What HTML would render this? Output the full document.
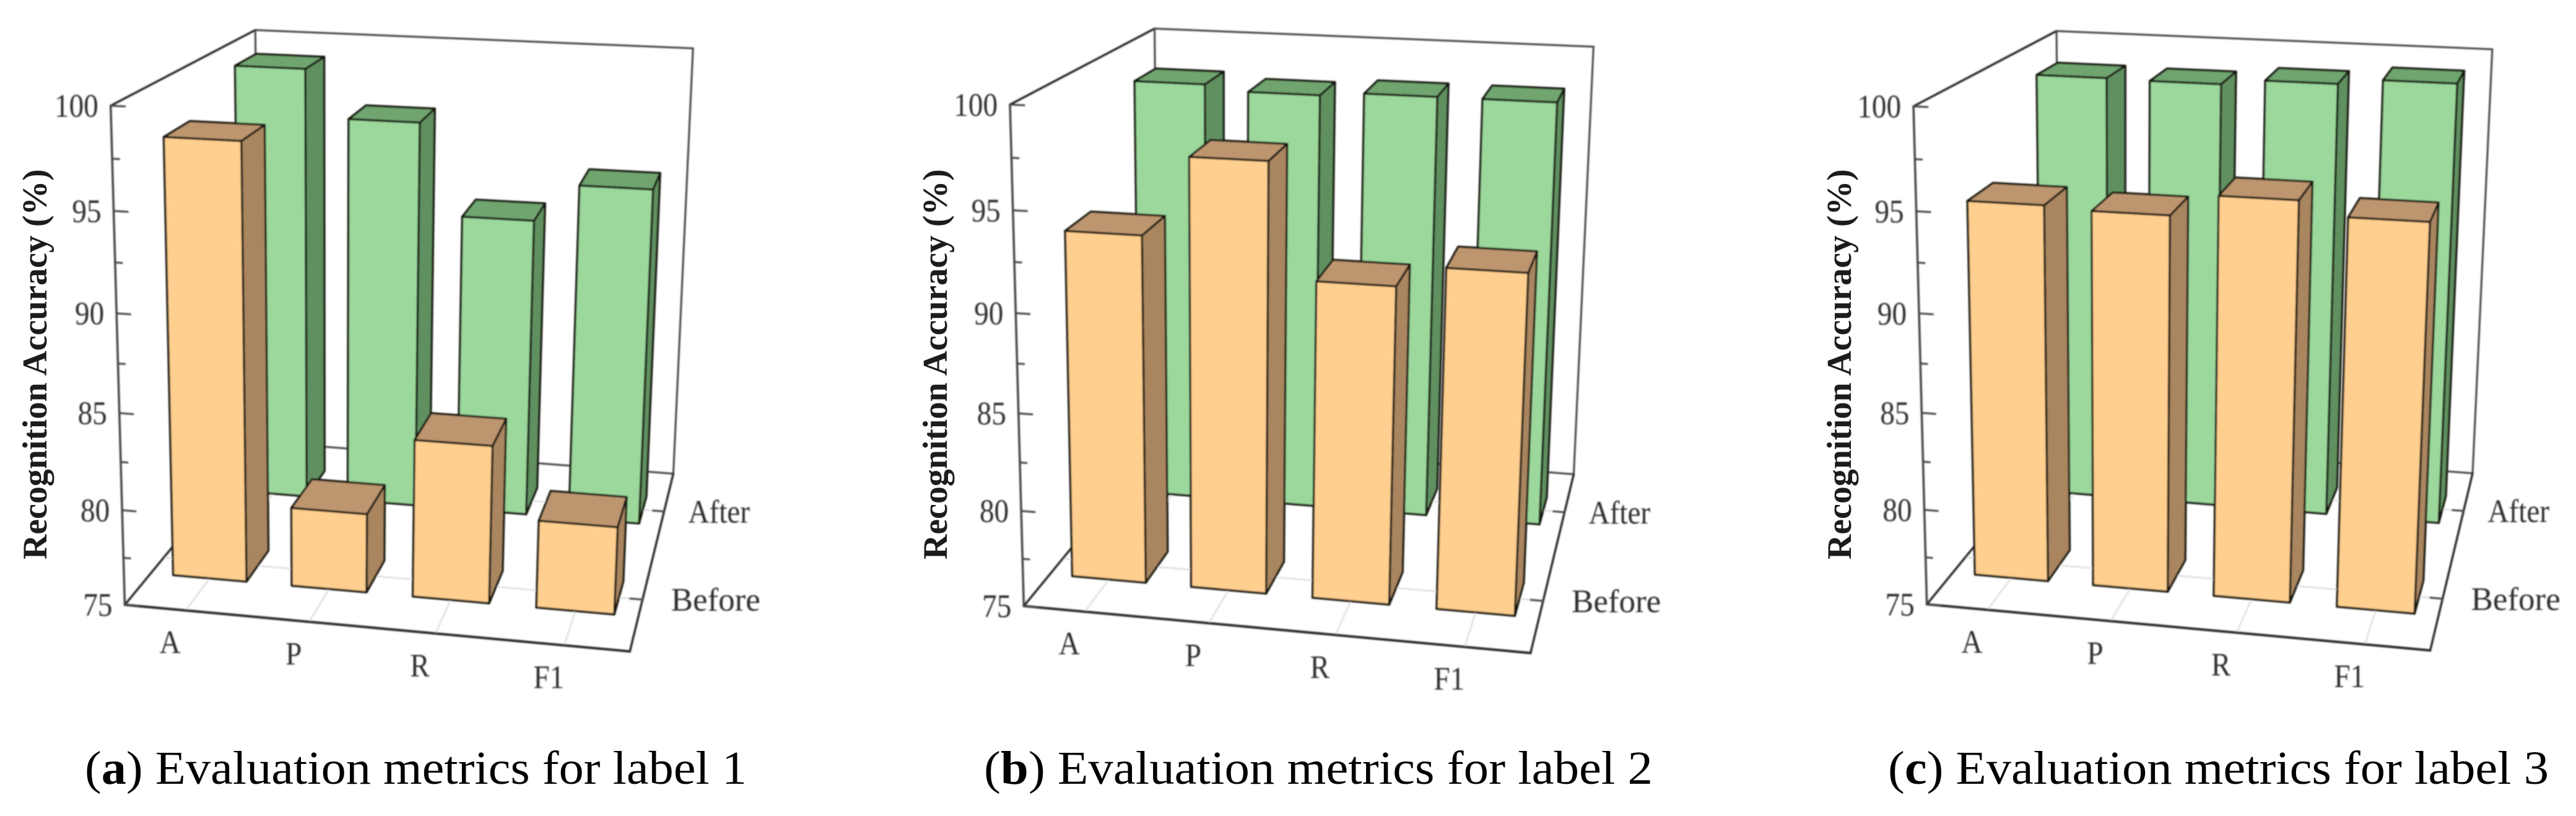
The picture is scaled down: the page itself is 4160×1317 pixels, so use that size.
<!DOCTYPE html>
<html lang="en">
<head>
<meta charset="utf-8">
<title>Evaluation metrics for labels 1 to 3</title>
<style>
html,body{margin:0;padding:0;background:#fff;width:4160px;height:1317px;overflow:hidden}
svg{display:block}
text{font-family:"Liberation Serif",serif}
.tick{font-size:53px;fill:#2e2e2e}
.title{font-size:56px;font-weight:bold;fill:#1c1c1c}
.cap{font-size:76px;fill:#000}
</style>
</head>
<body>
<svg id="figure" xmlns="http://www.w3.org/2000/svg" width="4160" height="1317" viewBox="0 0 4160 1317">
  <defs>
    <filter id="soft" filterUnits="userSpaceOnUse" x="0" y="0" width="4160" height="1317">
      <feGaussianBlur stdDeviation="1"/>
    </filter>
  </defs>
  <rect x="0" y="0" width="4160" height="1317" fill="#fff"/>
  <g id="panel-a" filter="url(#soft)"></g>
  <g id="panel-b" filter="url(#soft)"></g>
  <g id="panel-c" filter="url(#soft)"></g>
  <text class="title" transform="translate(75,588) rotate(-90)" text-anchor="middle" textLength="630" lengthAdjust="spacingAndGlyphs">Recognition Accuracy (%)</text>
  <text class="title" transform="translate(1529,588) rotate(-90)" text-anchor="middle" textLength="630" lengthAdjust="spacingAndGlyphs">Recognition Accuracy (%)</text>
  <text class="title" transform="translate(2989,588) rotate(-90)" text-anchor="middle" textLength="630" lengthAdjust="spacingAndGlyphs">Recognition Accuracy (%)</text>
  <text class="cap" x="137" y="1265" textLength="1069" lengthAdjust="spacingAndGlyphs">(<tspan font-weight="bold">a</tspan>) Evaluation metrics for label 1</text>
  <text class="cap" x="1589" y="1265" textLength="1080" lengthAdjust="spacingAndGlyphs">(<tspan font-weight="bold">b</tspan>) Evaluation metrics for label 2</text>
  <text class="cap" x="3049" y="1265" textLength="1067" lengthAdjust="spacingAndGlyphs">(<tspan font-weight="bold">c</tspan>) Evaluation metrics for label 3</text>
</svg>
<script>
// ---- chart data ----
var categories = ['A', 'P', 'R', 'F1'];
var rows = ['Before', 'After'];
var zTickLabels = [75, 80, 85, 90, 95, 100];
var zMinorTicks = [77.5, 82.5, 87.5, 92.5, 97.5];
var beforeLabel1 = [97.8, 79.2, 83.3, 79.6];
var afterLabel1 = [99.3, 96.7, 91.7, 93.75];
var beforeLabel2 = [93.1, 97.1, 91.35, 92.4];
var afterLabel2 = [98.4, 98.1, 98.3, 98.3];
var beforeLabel3 = [94.65, 94.5, 95.6, 94.9];
var afterLabel3 = [98.85, 98.8, 99.1, 99.4];

// ---- bar footprint in axis units ----
var barWidth = 0.62;
var barDepth = 0.34;

// ---- camera calibration: [x, depth, value, screenX, screenY] ----
var calibrationA = [
  [0,0,100,178.3,170.6],[0,0,75,201.5,976.5],[0,2,100,412,48.7],[4,2,100,1119.4,78.2],
  [4,2,75,1087.5,764],[4,0,75,1016.7,1051.7],[0,2,75,418.6,713],[0,0,90,189,505],[0,0,80,197.3,823.5]
];
var calibrationB = [
  [0,0,100,1630.5,168],[0,0,75,1652.9,977.3],[0,2,100,1864.3,46.2],[4,2,100,2573.3,75.6],
  [4,2,75,2541.8,764.7],[4,0,75,2471.3,1054.6],[0,2,75,1870.6,714],[0,0,90,1642,506],[0,0,80,1648.8,825]
];
var calibrationC = [
  [0,0,100,3089.7,170.6],[0,0,75,3111.2,974.8],[0,2,100,3320.2,50.4],[4,2,100,4025,79.8],
  [4,2,75,3993.5,763],[4,0,75,3923.8,1050.4],[0,2,75,3327,713],[0,0,90,3101.3,506],[0,0,80,3107,823.5]
];

var SVGNS = 'http://www.w3.org/2000/svg';

function solveCamera(points) {
  var n = 11, A = [], b = [], i, j, k;
  for (i = 0; i < n; i++) { A.push(new Array(n).fill(0)); b.push(0); }
  function addRow(row, rhs) {
    for (var r = 0; r < n; r++) {
      for (var c = 0; c < n; c++) { A[r][c] += row[r] * row[c]; }
      b[r] += row[r] * rhs;
    }
  }
  points.forEach(function (p) {
    var X = p[0] / 4, Y = p[1] / 2, Z = (p[2] - 75) / 25, u = p[3] / 1000, v = p[4] / 1000;
    addRow([X, Y, Z, 1, 0, 0, 0, 0, -u * X, -u * Y, -u * Z], u);
    addRow([0, 0, 0, 0, X, Y, Z, 1, -v * X, -v * Y, -v * Z], v);
  });
  for (i = 0; i < n; i++) {
    var piv = i;
    for (k = i + 1; k < n; k++) { if (Math.abs(A[k][i]) > Math.abs(A[piv][i])) { piv = k; } }
    var t = A[i]; A[i] = A[piv]; A[piv] = t;
    var tb = b[i]; b[i] = b[piv]; b[piv] = tb;
    for (k = i + 1; k < n; k++) {
      var f = A[k][i] / A[i][i];
      for (j = i; j < n; j++) { A[k][j] -= f * A[i][j]; }
      b[k] -= f * b[i];
    }
  }
  var m = new Array(n).fill(0);
  for (i = n - 1; i >= 0; i--) {
    var s = b[i];
    for (j = i + 1; j < n; j++) { s -= A[i][j] * m[j]; }
    m[i] = s / A[i][i];
  }
  return function (x, y, z) {
    var X = x / 4, Y = y / 2, Z = (z - 75) / 25;
    var w = m[8] * X + m[9] * Y + m[10] * Z + 1;
    return [1000 * (m[0] * X + m[1] * Y + m[2] * Z + m[3]) / w,
            1000 * (m[4] * X + m[5] * Y + m[6] * Z + m[7]) / w];
  };
}

function addLine(parent, a, b, color, width, name) {
  var el = document.createElementNS(SVGNS, 'line');
  el.setAttribute('x1', a[0]);
  el.setAttribute('y1', a[1]);
  el.setAttribute('x2', b[0]);
  el.setAttribute('y2', b[1]);
  el.setAttribute('stroke', color);
  el.setAttribute('stroke-width', width);
  el.setAttribute('stroke-linecap', 'round');
  
  
  parent.appendChild(el);
}

function addFace(parent, pts, fill, name) {
  var el = document.createElementNS(SVGNS, 'polygon');
  el.setAttribute('points', pts.map(function (p) { return p[0].toFixed(1) + ',' + p[1].toFixed(1); }).join(' '));
  el.setAttribute('fill', fill);
  el.setAttribute('stroke', '#15150f');
  el.setAttribute('stroke-width', '3.5');
  el.setAttribute('stroke-linejoin', 'round');
  
  
  parent.appendChild(el);
}

function addLabel(parent, str, x, y, anchor, xScale, name) {
  var el = document.createElementNS(SVGNS, 'text');
  el.setAttribute('class', 'tick');
  el.setAttribute('transform', 'translate(' + x + ',' + y + ') scale(' + xScale + ',1)');
  el.setAttribute('text-anchor', anchor);
  
  
  el.textContent = str;
  parent.appendChild(el);
}

function addBar(parent, P, xc, yc, value, colors, name) {
  var x0 = xc - barWidth / 2, x1 = xc + barWidth / 2;
  var y0 = yc - barDepth / 2, y1 = yc + barDepth / 2;
  var g = document.createElementNS(SVGNS, 'g');
  
  
  addFace(g, [P(x1, y0, 75), P(x1, y1, 75), P(x1, y1, value), P(x1, y0, value)], colors[1], name + '-side');
  addFace(g, [P(x0, y0, value), P(x1, y0, value), P(x1, y1, value), P(x0, y1, value)], colors[2], name + '-top');
  addFace(g, [P(x0, y0, 75), P(x1, y0, 75), P(x1, y0, value), P(x0, y0, value)], colors[0], name + '-front');
  parent.appendChild(g);
}

function drawPanel(id, calibration, before, after) {
  var root = document.getElementById(id);
  var P = solveCamera(calibration);
  var frame = '#444', grid = '#dedede';
  var i;

  // floor grid
  categories.forEach(function (c, k) {
    addLine(root, P(k + 0.5, 0, 75), P(k + 0.5, 2, 75), grid, 2.5, 'x-gridline-' + c);
  });
  rows.forEach(function (r, k) {
    addLine(root, P(0, k + 0.5, 75), P(4, k + 0.5, 75), grid, 2.5, 'depth-gridline-' + r);
  });

  // back walls and floor outline behind the bars
  addLine(root, P(0, 0, 100), P(0, 2, 100), '#2c2c2c', 3.5, 'top-left-edge');
  addLine(root, P(0, 2, 100), P(4, 2, 100), frame, 3, 'back-top-edge');
  addLine(root, P(0, 2, 100), P(0, 2, 75), frame, 3, 'back-left-edge');
  addLine(root, P(4, 2, 100), P(4, 2, 75), frame, 3, 'back-right-edge');
  addLine(root, P(0, 2, 75), P(4, 2, 75), frame, 3, 'back-bottom-edge');
  addLine(root, P(0, 0, 75), P(0, 2, 75), '#2c2c2c', 3.5, 'floor-left-edge');
  addLine(root, P(4, 0, 75), P(4, 2, 75), '#2c2c2c', 3.5, 'floor-right-edge');
  addLine(root, P(0, 0, 75), P(4, 0, 75), '#2c2c2c', 4, 'floor-front-edge');

  // value axis with ticks
  addLine(root, P(0, 0, 100), P(0, 0, 75), frame, 3.5, 'value-axis');
  zTickLabels.forEach(function (z) {
    addLine(root, P(0, 0, z), P(0.11, 0, z), frame, 3, 'value-tick-' + z);
    var p = P(0, 0, z);
    addLabel(root, String(z), p[0] - 20, p[1] + 18, 'end', 0.89, 'value-tick-label-' + z);
  });
  zMinorTicks.forEach(function (z) {
    addLine(root, P(0, 0, z), P(0.055, 0, z), frame, 3, 'value-minor-tick-' + z);
  });

  // depth axis ticks and labels
  rows.forEach(function (r, k) {
    var p = P(4, k + 0.5, 75);
    addLine(root, p, P(3.9, k + 0.5, 75), frame, 3, 'depth-tick-' + r);
    addLabel(root, r, p[0] + (k === 0 ? 46 : 39), p[1] + 18, 'start', (k === 0 ? 1 : 0.89), 'depth-label-' + r);
  });

  // category labels
  categories.forEach(function (c, k) {
    var p = P(k + 0.5, 0, 75);
    addLabel(root, c, p[0] - 25, p[1] + 69, 'middle', 0.89, 'category-label-' + c);
  });

  // bars: back row first, then front row
  var greens = ['#9cd89c', '#609060', '#70a570'];
  var oranges = ['#ffcf90', '#a98660', '#bd9670'];
  for (i = 0; i < categories.length; i++) {
    addBar(root, P, i + 0.5, 1.5, after[i], greens, 'bar-after-' + categories[i]);
  }
  for (i = 0; i < categories.length; i++) {
    addBar(root, P, i + 0.5, 0.5, before[i], oranges, 'bar-before-' + categories[i]);
  }
}

drawPanel('panel-a', calibrationA, beforeLabel1, afterLabel1);
drawPanel('panel-b', calibrationB, beforeLabel2, afterLabel2);
drawPanel('panel-c', calibrationC, beforeLabel3, afterLabel3);
</script>
</body>
</html>
